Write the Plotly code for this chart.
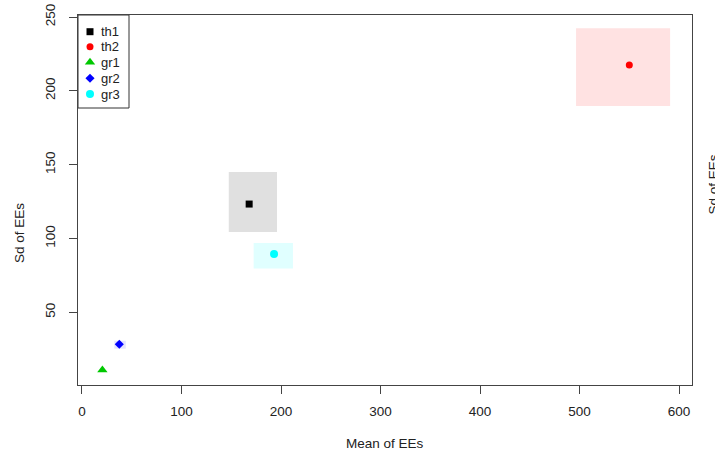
import plotly.graph_objects as go

names = ["th1", "th2", "gr1", "gr2", "gr3"]
mean_ee = [168, 550, 20.5, 37.5, 193]
sd_ee = [123.3, 217.5, 10.8, 28.3, 89.4]
mean_lo = [147.5, 496.5, 19.5, 32.5, 172.5]
mean_hi = [196, 591, 21.5, 44, 212]
sd_lo = [104.3, 189.7, 10.3, 25.3, 79.7]
sd_hi = [145, 242.5, 11.3, 30.7, 96.9]
colors = ["black", "red", "#00C800", "blue", "cyan"]
fills = ["#E0E0E0", "#FFE2E2", "#E0F8E0", "#E4E4FF", "#E0FFFF"]
symbols = ["square", "circle", "triangle-up", "diamond", "circle"]
sizes = [7, 7, 9, 7, 8]
x_ticks = [0, 100, 200, 300, 400, 500, 600]
y_ticks = [50, 100, 150, 200, 250]

# page body margin is removed by post_script, so figure coords = page coords
W, H = 715, 459
L, R, T, B = 78, 692, 15, 385


def px_x(page_x):
    return (page_x - L) / (R - L)


def px_y(page_y):
    return (B - page_y) / (B - T)


fig = go.Figure()
for i, n in enumerate(names):
    fig.add_shape(type="rect", xref="x", yref="y",
                  x0=mean_lo[i], x1=mean_hi[i], y0=sd_lo[i], y1=sd_hi[i],
                  fillcolor=fills[i], line=dict(width=0), layer="below")
    fig.add_trace(go.Scatter(x=[mean_ee[i]], y=[sd_ee[i]], mode="markers", name=n,
                             showlegend=False,
                             marker=dict(color=colors[i], symbol=symbols[i], size=sizes[i],
                                         line=dict(width=0))))

# manual legend drawn on an overlay axis measured in pixels
leg_right, leg_bottom = 129, 108
leg_sym_x, leg_txt_x = 90, 99
leg_y = [31.7, 46.8, 62.3, 78.3, 94]
for i, n in enumerate(names):
    fig.add_trace(go.Scatter(x=[leg_sym_x], y=[leg_y[i]], xaxis="x2", yaxis="y2",
                             mode="markers", showlegend=False, hoverinfo="skip",
                             marker=dict(color=colors[i], symbol=symbols[i], size=sizes[i],
                                         line=dict(width=0))))
    fig.add_annotation(xref="x2", yref="y2", x=leg_txt_x, y=leg_y[i], text=n,
                       xanchor="left", yanchor="middle", showarrow=False,
                       font=dict(size=13, color="#222"))
fig.add_shape(type="rect", xref="x2", yref="y2", x0=L, x1=leg_right, y0=T, y1=leg_bottom,
              line=dict(color="#333", width=1), fillcolor="white", layer="below")

font = "Liberation Sans, Arial, sans-serif"
fig.update_layout(
    width=W, height=H,
    margin=dict(l=L, r=W - R, t=T, b=H - B),
    plot_bgcolor="white", paper_bgcolor="white",
    font=dict(family=font, size=12, color="#222"),
    showlegend=False,
    xaxis=dict(range=[-4, 613], tickvals=x_ticks, showgrid=False, zeroline=False,
               showline=True, linecolor="#444", linewidth=1, mirror=True, automargin=False,
               ticks="outside", ticklen=8, tickcolor="#444", ticklabelstandoff=6,
               ticklabeloverflow="allow", tickfont=dict(size=13.5)),
    yaxis=dict(range=[0.7, 251.4], tickvals=y_ticks, showgrid=False, zeroline=False,
               showline=True, linecolor="#444", linewidth=1, mirror=True, automargin=False,
               ticks="outside", ticklen=8, tickcolor="#444", tickangle=-90,
               ticklabelstandoff=9, ticklabeloverflow="allow", tickfont=dict(size=13.5)),
    xaxis2=dict(range=[L, R], overlaying="x", visible=False, fixedrange=True),
    yaxis2=dict(range=[B, T], overlaying="y", visible=False, fixedrange=True),
)
# axis titles
fig.add_annotation(text="Mean of EEs", xref="paper", yref="paper", x=px_x(385), y=px_y(443),
                   xanchor="center", yanchor="middle", showarrow=False,
                   font=dict(size=13.5, color="#222"))
fig.add_annotation(text="Sd of EEs", xref="paper", yref="paper", x=px_x(19), y=px_y(233),
                   xanchor="center", yanchor="middle", showarrow=False, textangle=-90,
                   font=dict(size=13.5, color="#222"))
# neighbouring panel's label, cut off at the right edge
fig.add_annotation(text="Sd of EEs", xref="paper", yref="paper", x=px_x(722), y=px_y(185),
                   xanchor="right", yanchor="middle", showarrow=False, textangle=-90,
                   font=dict(size=13.5, color="#222"))
fig.write_html("out.html", config={"displayModeBar": False},
               post_script="document.body.style.margin='0px';")
